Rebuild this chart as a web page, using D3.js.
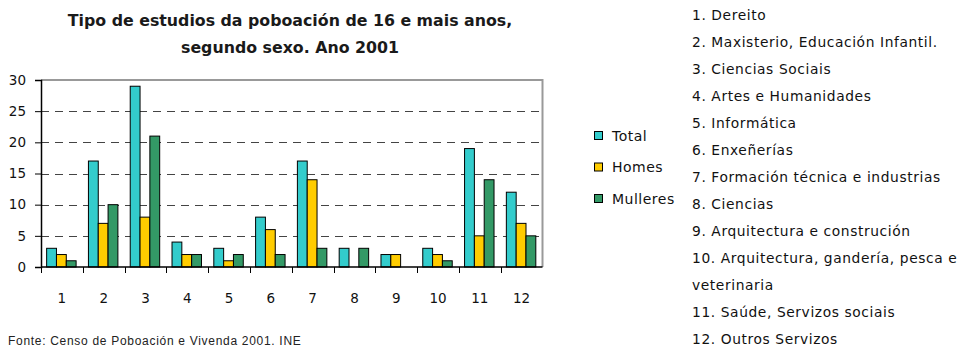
<!DOCTYPE html>
<html>
<head>
<meta charset="utf-8">
<script src="https://cdn.jsdelivr.net/npm/d3@7"></script>
<style>
  html, body { margin: 0; padding: 0; background: #fff; }
  svg { display: block; }
</style>
</head>
<body>
<svg id="chart" width="964" height="351"></svg>
<script>
// Categories (numbered study fields) and percentage values by sex
const categories = ["1", "2", "3", "4", "5", "6", "7", "8", "9", "10", "11", "12"];
const seriesNames = ["Total", "Homes", "Mulleres"];
const totalValues    = [3, 17, 29, 4, 3, 8, 17, 3, 2, 3, 19, 12];
const homesValues    = [2, 7, 8, 2, 1, 6, 14, 0, 2, 2, 5, 7];
const mulleresValues = [1, 10, 21, 2, 2, 2, 3, 3, 0, 1, 14, 5];
const yTicks = [0, 5, 10, 15, 20, 25, 30];
const fieldNames = [
  "1. Dereito",
  "2. Maxisterio, Educación Infantil.",
  "3. Ciencias Sociais",
  "4. Artes e Humanidades",
  "5. Informática",
  "6. Enxeñerías",
  "7. Formación técnica e industrias",
  "8. Ciencias",
  "9. Arquitectura e construción",
  "10. Arquitectura, gandería, pesca e",
  "veterinaria",
  "11. Saúde, Servizos sociais",
  "12. Outros Servizos"
];
const titleLines = ["Tipo de estudios da poboación de 16 e mais anos,", "segundo sexo. Ano 2001"];
const sourceText = "Fonte: Censo de Poboación e Vivenda 2001. INE";

const colors = { "Total": "#33CCCC", "Homes": "#FFCC00", "Mulleres": "#339966" };
const seriesValues = { "Total": totalValues, "Homes": homesValues, "Mulleres": mulleresValues };

const font = "'DejaVu Sans', Verdana, sans-serif";
const svg = d3.select("#chart");

const plot = { left: 41, right: 542.5, top: 80, bottom: 267 };

const x0 = d3.scaleBand().domain(categories).range([plot.left, plot.right]).paddingInner(0).paddingOuter(0);
const bw = x0.bandwidth();
const x1 = d3.scaleBand().domain(seriesNames).range([bw * 0.135, bw * 0.84]).padding(0);
const y = d3.scaleLinear().domain([0, 30]).range([plot.bottom, plot.top]);

// Title
svg.append("g").selectAll("text").data(titleLines).join("text")
  .attr("x", 290).attr("y", (d, i) => 26 + i * 27)
  .attr("text-anchor", "middle")
  .attr("font-family", font).attr("font-size", 15.8).attr("font-weight", "bold")
  .attr("fill", "#1a1a1a")
  .text(d => d);

// Dashed gridlines (skip 0 and 30)
svg.append("g").selectAll("line").data(yTicks.filter(t => t > 0 && t < 30)).join("line")
  .attr("x1", plot.left).attr("x2", plot.right)
  .attr("y1", d => Math.round(y(d)) + 0.5).attr("y2", d => Math.round(y(d)) + 0.5)
  .attr("stroke", "#444").attr("stroke-width", 1).attr("stroke-dasharray", "8,6");

// Plot area border (top and right, grey)
svg.append("path")
  .attr("d", `M${plot.left},${plot.top}H${plot.right}V${plot.bottom}`)
  .attr("fill", "none").attr("stroke", "#999").attr("stroke-width", 2);

// Bars
const groups = svg.append("g").selectAll("g").data(categories).join("g")
  .attr("transform", d => `translate(${x0(d)},0)`);
groups.selectAll("rect")
  .data((c, i) => seriesNames.map(s => ({ s, v: seriesValues[s][i] })).filter(d => d.v > 0))
  .join("rect")
  .attr("x", d => x1(d.s))
  .attr("width", x1.bandwidth())
  .attr("y", d => y(d.v))
  .attr("height", d => y(0) - y(d.v))
  .attr("fill", d => colors[d.s])
  .attr("stroke", "#000").attr("stroke-width", 1);

// Y axis
const yAxis = svg.append("g")
  .attr("transform", `translate(${plot.left},0)`)
  .call(d3.axisLeft(y).tickValues(yTicks).tickSize(6).tickPadding(9));
yAxis.select(".domain").attr("stroke", "#000").attr("stroke-width", 1.5);
yAxis.selectAll(".tick line").attr("stroke", "#000");
yAxis.selectAll(".tick text").attr("font-family", font).attr("font-size", 13.5).attr("fill", "#111");

// X axis: ticks between categories
const xAxis = svg.append("g")
  .attr("transform", `translate(0,${plot.bottom})`);
xAxis.append("line")
  .attr("x1", plot.left).attr("x2", plot.right).attr("y1", 0).attr("y2", 0)
  .attr("stroke", "#000").attr("stroke-width", 1.5);
const boundaries = categories.map(c => x0(c));
xAxis.selectAll("line.tk").data(boundaries).join("line").attr("class", "tk")
  .attr("x1", d => Math.round(d) + 0.5).attr("x2", d => Math.round(d) + 0.5)
  .attr("y1", 0).attr("y2", 6).attr("stroke", "#000");
xAxis.selectAll("text").data(categories).join("text")
  .attr("x", d => x0(d) + bw / 2).attr("y", 36)
  .attr("text-anchor", "middle")
  .attr("font-family", font).attr("font-size", 13.5).attr("fill", "#111")
  .text(d => d);

// Legend
const legend = svg.append("g").selectAll("g").data(seriesNames).join("g")
  .attr("transform", (d, i) => `translate(594,${136 + i * 31.5})`);
legend.append("rect")
  .attr("x", 0.5).attr("y", -4.5).attr("width", 8).attr("height", 8)
  .attr("fill", d => colors[d]).attr("stroke", "#000");
legend.append("text")
  .attr("x", 18).attr("y", 0).attr("dy", "0.35em")
  .attr("font-family", font).attr("font-size", 14).attr("letter-spacing", 0.5).attr("fill", "#111")
  .text(d => d);

// Field list on the right
svg.append("g").selectAll("text").data(fieldNames).join("text")
  .attr("x", 692).attr("y", (d, i) => 15 + i * 27)
  .attr("dy", "0.35em")
  .attr("font-family", font).attr("font-size", 13.8).attr("letter-spacing", 0.6).attr("fill", "#111")
  .text(d => d);

// Source note
svg.append("text")
  .attr("x", 8).attr("y", 345)
  .attr("font-family", "'Liberation Sans', Arial, sans-serif").attr("font-size", 12)
  .attr("letter-spacing", 0.7)
  .attr("fill", "#222")
  .text(sourceText);
</script>
</body>
</html>
